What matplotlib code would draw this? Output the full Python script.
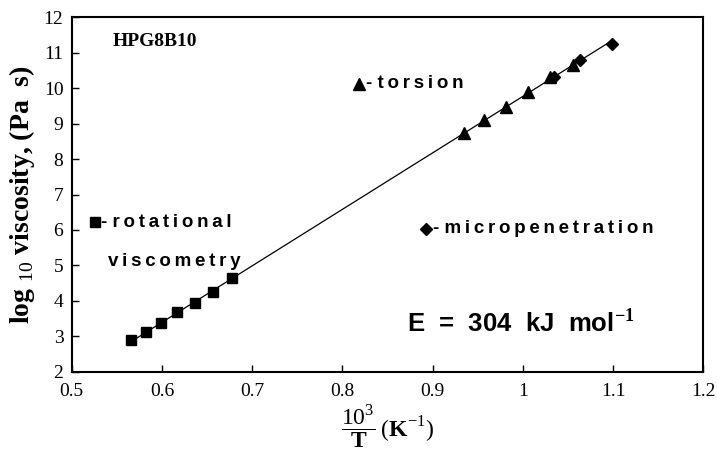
import numpy as np
import matplotlib
matplotlib.use("Agg")
import matplotlib.pyplot as plt

plt.rcParams["font.family"] = ["Liberation Serif", "DejaVu Serif"]
plt.rcParams["mathtext.fontset"] = "custom"
plt.rcParams["mathtext.rm"] = "Liberation Serif"
plt.rcParams["mathtext.bf"] = "Liberation Serif:bold"

# rotational viscometry
rot_x = [0.566, 0.582, 0.599, 0.617, 0.637, 0.657, 0.678]
rot_y = [2.90, 3.12, 3.38, 3.68, 3.93, 4.26, 4.64]
# torsion
tor_x = [0.935, 0.957, 0.981, 1.006, 1.030, 1.056]
tor_y = [8.73, 9.10, 9.46, 9.90, 10.32, 10.66]
# micropenetration
mic_x = [1.035, 1.063, 1.099]
mic_y = [10.30, 10.80, 11.24]

xticks = [0.5, 0.6, 0.7, 0.8, 0.9, 1.0, 1.1, 1.2]
xticklabels = ["0.5", "0.6", "0.7", "0.8", "0.9", "1", "1.1", "1.2"]
yticks = list(range(2, 13))


def spaced(s):
    # letter-spaced label text, as in the original figure
    return "\u2009".join(s)


fig = plt.figure(figsize=(7.17, 4.62), dpi=100)
ax = fig.add_axes([0.100, 0.195, 0.881, 0.768])

# fitted line over all points
all_x = np.array(rot_x + tor_x + mic_x)
all_y = np.array(rot_y + tor_y + mic_y)
k, b = np.polyfit(all_x, all_y, 1)
lx = np.array([all_x.min(), all_x.max()])
ax.plot(lx, k * lx + b, color="black", lw=0.9)

ax.plot(rot_x, rot_y, "s", color="black", ms=7)
ax.plot(tor_x, tor_y, "^", color="black", ms=8)
ax.plot(mic_x, mic_y, "D", color="black", ms=6)

ax.set_xlim(0.5, 1.2)
ax.set_ylim(2, 12)
ax.set_xticks(xticks)
ax.set_xticklabels(xticklabels)
ax.set_yticks(yticks)
ax.tick_params(direction="in", length=5, width=1, labelsize=14, pad=8)
ax.tick_params(axis="y", pad=6)
for s in ax.spines.values():
    s.set_linewidth(1.5)

ax.set_ylabel(r"log $_{\mathrm{10}}$ viscosity, (Pa  s)", fontsize=20, fontweight="bold", labelpad=5)
ax.set_xlabel(r"$\dfrac{10^3}{\mathbf{T}}\,(\mathbf{K}^{\mathrm{-1}})$", fontsize=17, labelpad=2)

sans = ["Liberation Sans", "DejaVu Sans"]
ax.text(0.545, 11.3, "HPG8B10", fontsize=14, fontweight="bold", va="center")
ax.plot([0.818], [10.12], "^", color="black", ms=8)
ax.text(0.826, 10.14, "- " + spaced("torsion"), family=sans, fontsize=13.5, fontweight="bold", va="center")
ax.plot([0.526], [6.22], "s", color="black", ms=7)
ax.text(0.533, 6.22, "- " + spaced("rotational"), family=sans, fontsize=13.5, fontweight="bold", va="center")
ax.text(0.540, 5.1, spaced("viscometry"), family=sans, fontsize=13.5, fontweight="bold", va="center")
ax.plot([0.893], [6.02], "D", color="black", ms=6)
ax.text(0.900, 6.05, "- " + spaced("micropenetration"), family=sans, fontsize=13.5,
        fontweight="bold", va="center")
ax.text(0.872, 3.4, r"E  =  304  kJ  mol$^{\mathbf{-1}}$", family=sans, fontsize=18.5,
        fontweight="bold", va="center")

fig.savefig("out.png", dpi=100)
